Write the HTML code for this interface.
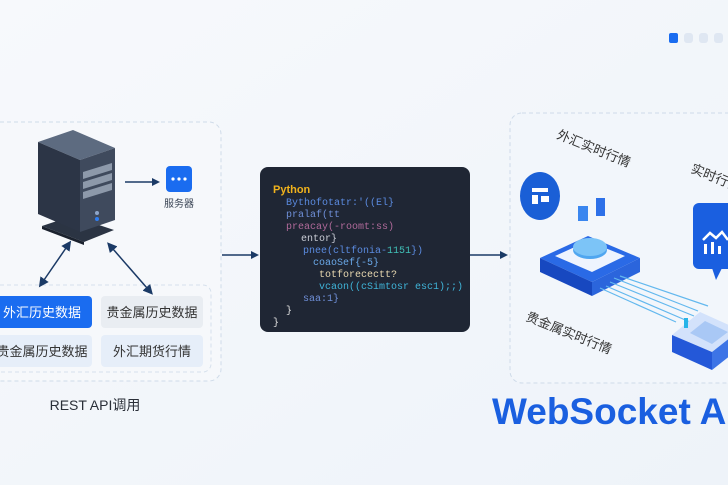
<!DOCTYPE html>
<html><head><meta charset="utf-8"><style>
html,body{margin:0;padding:0;width:728px;height:485px;overflow:hidden;background:#f3f6fa;}
svg{display:block}
text{font-family:"Liberation Sans","Noto Sans CJK SC",sans-serif;}
.mono{font-family:"Liberation Mono",monospace;font-size:10px;}
</style></head><body>
<svg width="728" height="485" viewBox="0 0 728 485" xmlns="http://www.w3.org/2000/svg">
<defs>
<linearGradient id="bg" x1="0" y1="0" x2="1" y2="1"><stop offset="0" stop-color="#f7f9fc"/><stop offset="1" stop-color="#eef3f9"/></linearGradient>
<marker id="ah" markerWidth="8" markerHeight="8" refX="6" refY="4" orient="auto" markerUnits="userSpaceOnUse"><path d="M0,0 L8,4 L0,8 Z" fill="#1b3a66"/></marker>
<marker id="ahs" markerWidth="10" markerHeight="10" refX="1" refY="5" orient="auto-start-reverse" markerUnits="userSpaceOnUse"><path d="M0,0 L10,5 L0,10 Z" fill="#1b3a66"/></marker>
</defs>
<rect width="728" height="485" fill="url(#bg)"/>
<rect x="669" y="33" width="9" height="10" rx="2" fill="#1a6cf0"/>
<rect x="684" y="33" width="9" height="10" rx="3" fill="#dfe7f2"/>
<rect x="699" y="33" width="9" height="10" rx="3" fill="#dfe7f2"/>
<rect x="714" y="33" width="9" height="10" rx="3" fill="#dfe7f2"/>

<rect x="-12" y="122" width="233" height="259" rx="12" fill="#f6f8fb" stroke="#cfdbe9" stroke-dasharray="4,3"/>
<rect x="-8" y="285" width="219" height="87" rx="8" fill="none" stroke="#d6e0ec" stroke-dasharray="4,3"/>
<!-- server -->
<polygon points="42,226 72,216 114,230 84,242" fill="#2b3443"/>
<polygon points="42,226 84,242 84,245 42,229" fill="#1b222e"/>
<polygon points="38,142 73,130 115,148 80,160" fill="#5d6b80"/>
<polygon points="38,142 80,160 80,232 38,214" fill="#2c3546"/>
<polygon points="80,160 115,148 115,220 80,232" fill="#3f4a5d"/>
<polygon points="83,172 112,163 112,170 83,179" fill="#8d99aa"/>
<polygon points="83,182 112,173 112,180 83,189" fill="#8d99aa"/>
<polygon points="83,192 112,183 112,190 83,199" fill="#8d99aa"/>
<circle cx="97" cy="213" r="2" fill="#8ea5c8"/><circle cx="97" cy="219" r="2" fill="#2f7df0"/>
<line x1="125" y1="182" x2="158" y2="182" stroke="#1b3a66" stroke-width="1.5" marker-end="url(#ah)"/>
<rect x="166" y="166" width="26" height="26" rx="4" fill="#1a6cf0"/>
<circle cx="173" cy="179" r="1.6" fill="#fff"/><circle cx="179" cy="179" r="1.6" fill="#fff"/><circle cx="185" cy="179" r="1.6" fill="#fff"/>
<text x="179" y="207" font-size="10" fill="#3a4555" text-anchor="middle">服务器</text>
<line x1="44" y1="280" x2="66" y2="248" stroke="#1b3a66" stroke-width="1.5" marker-start="url(#ahs)" marker-end="url(#ahs)"/>
<line x1="147" y1="288" x2="113" y2="249" stroke="#1b3a66" stroke-width="1.5" marker-start="url(#ahs)" marker-end="url(#ahs)"/>
<rect x="-6" y="296" width="98" height="32" rx="4" fill="#1a6cf0"/>
<text x="42" y="317" font-size="13" fill="#fff" text-anchor="middle">外汇历史数据</text>
<rect x="101" y="296" width="102" height="32" rx="4" fill="#e9edf2"/>
<text x="152" y="317" font-size="13" fill="#333" text-anchor="middle">贵金属历史数据</text>
<rect x="-6" y="335" width="98" height="32" rx="4" fill="#e6eef9"/>
<text x="42" y="356" font-size="13" fill="#333" text-anchor="middle">贵金属历史数据</text>
<rect x="101" y="335" width="102" height="32" rx="4" fill="#e6eef9"/>
<text x="152" y="356" font-size="13" fill="#333" text-anchor="middle">外汇期货行情</text>
<text x="95" y="410" font-size="14" fill="#2a2f38" text-anchor="middle">REST API调用</text>

<line x1="222" y1="255" x2="257" y2="255" stroke="#1b3a66" stroke-width="1.5" marker-end="url(#ah)"/>
<line x1="470" y1="255" x2="506" y2="255" stroke="#1b3a66" stroke-width="1.5" marker-end="url(#ah)"/>

<rect x="260" y="167" width="210" height="165" rx="8" fill="#1f2634"/>
<text x="273" y="193" font-size="11" font-weight="bold" fill="#f0b21c">Python</text>
<text class="mono" x="286" y="205" fill="#5b8be0">Bythofotatr:'((El}</text>
<text class="mono" x="286" y="217" fill="#6f8fd8">pralaf(tt</text>
<text class="mono" x="286" y="229" fill="#b06a9a">preacay(-roomt:ss)</text>
<text class="mono" x="301" y="241" fill="#c9cdd6">entor}</text>
<text class="mono" x="303" y="253" fill="#5b8be0">pnee(cltfonia-<tspan fill="#40c0b8">1151</tspan>})</text>
<text class="mono" x="313" y="265" fill="#6aa8e8">coaoSef{-5}</text>
<text class="mono" x="319" y="277" fill="#e8d8b0">totforecectt?</text>
<text class="mono" x="319" y="289" fill="#3fb4d8">vcaon((cSimtosr esc1);;)</text>
<text class="mono" x="303" y="301" fill="#6f8fd8">saa:1}</text>
<text class="mono" x="286" y="313" fill="#e0e0e0">}</text>
<text class="mono" x="273" y="325" fill="#e0e0e0">}</text>

<rect x="510" y="113" width="240" height="270" rx="12" fill="#f2f6fb" stroke="#cfdbe9" stroke-dasharray="4,3"/>
<text x="556" y="138" font-size="13" fill="#333" transform="rotate(22 556 138)">外汇实时行情</text>
<text x="690" y="172" font-size="13" fill="#333" transform="rotate(22 690 172)">实时行情</text>
<text x="525" y="320" font-size="13" fill="#333" transform="rotate(22 525 320)">贵金属实时行情</text>
<ellipse cx="540" cy="196" rx="20" ry="24" fill="#1a5fd6"/>
<rect x="532" y="188" width="16" height="4" fill="#fff"/><rect x="532" y="195" width="6" height="9" fill="#fff"/><rect x="541" y="196" width="8" height="6" fill="#fff"/>
<polygon points="540,258 588,236 640,258 592,282" fill="#2a6ae6"/>
<polygon points="540,258 592,282 592,296 540,272" fill="#1748c0"/>
<polygon points="592,282 640,258 640,272 592,296" fill="#2b65dc"/>
<polygon points="555,256 588,241 625,256 592,272" fill="#eef4fe"/>
<ellipse cx="590" cy="250" rx="17" ry="9" fill="#4fa6f0"/>
<ellipse cx="590" cy="247" rx="17" ry="9" fill="#7cc4f7"/>
<rect x="578" y="206" width="10" height="15" fill="#3a86ef"/><rect x="596" y="198" width="9" height="18" fill="#2d70e8"/>
<g stroke="#63b8ee" stroke-width="1.2">
<line x1="606" y1="286" x2="690" y2="322"/><line x1="610" y1="282" x2="694" y2="316"/><line x1="614" y1="278" x2="698" y2="311"/><line x1="600" y1="288" x2="676" y2="322"/><line x1="620" y1="276" x2="708" y2="306"/>
</g>
<rect x="693" y="203" width="45" height="66" rx="6" fill="#1a5fe0"/>
<polygon points="712,268 722,268 716,280" fill="#1a5fe0"/>
<polyline points="703,240 710,233 716,238 722,232 728,240" fill="none" stroke="#fff" stroke-width="2.5"/>
<rect x="704" y="244" width="3" height="10" fill="#fff"/><rect x="711" y="242" width="3" height="12" fill="#fff"/><rect x="718" y="246" width="3" height="8" fill="#fff"/>
<polygon points="672,335 700,312 740,330 712,352" fill="#d3e2fb"/>
<polygon points="672,335 712,352 712,370 672,352" fill="#2458d8"/>
<polygon points="712,352 740,330 740,348 712,370" fill="#3d74e6"/>
<polygon points="690,333 705,321 728,332 712,344" fill="#a9c8f5"/>
<rect x="684" y="318" width="4" height="10" fill="#27b4e8"/>
<text x="492" y="424" font-size="37" font-weight="bold" fill="#1a5fe0">WebSocket API</text>
</svg>
</body></html>
